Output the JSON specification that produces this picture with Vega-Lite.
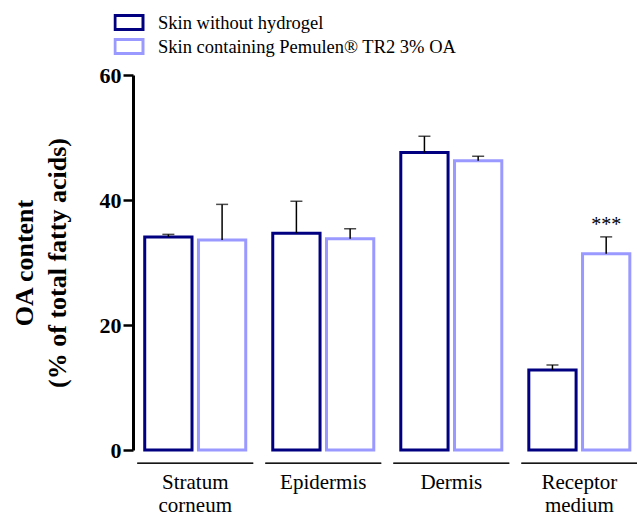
{
  "$schema": "https://vega.github.io/schema/vega-lite/v6.json",
  "autosize": {"type": "none"},
  "padding": {"left": 133, "top": 75, "right": 2, "bottom": 66},
  "width": 502,
  "height": 375,
  "config": {"view": {"stroke": null}, "font": "Liberation Serif"},
  "data": {
    "values": [
      {"tissue": "Stratum corneum", "series": "Skin without hydrogel", "mean": 34.1, "upper": 34.5, "sig": ""},
      {"tissue": "Stratum corneum", "series": "Skin containing Pemulen® TR2 3% OA", "mean": 33.6, "upper": 39.3, "sig": ""},
      {"tissue": "Epidermis", "series": "Skin without hydrogel", "mean": 34.7, "upper": 39.8, "sig": ""},
      {"tissue": "Epidermis", "series": "Skin containing Pemulen® TR2 3% OA", "mean": 33.8, "upper": 35.4, "sig": ""},
      {"tissue": "Dermis", "series": "Skin without hydrogel", "mean": 47.6, "upper": 50.2, "sig": ""},
      {"tissue": "Dermis", "series": "Skin containing Pemulen® TR2 3% OA", "mean": 46.3, "upper": 47.0, "sig": ""},
      {"tissue": "Receptor medium", "series": "Skin without hydrogel", "mean": 12.8, "upper": 13.6, "sig": ""},
      {"tissue": "Receptor medium", "series": "Skin containing Pemulen® TR2 3% OA", "mean": 31.4, "upper": 34.1, "sig": "***"}
    ]
  },
  "encoding": {
    "x": {
      "field": "tissue",
      "type": "nominal",
      "sort": ["Stratum corneum", "Epidermis", "Dermis", "Receptor medium"],
      "scale": {"paddingInner": 0.211, "paddingOuter": 0.066, "align": 0.694},
      "axis": {
        "title": null,
        "domain": false,
        "ticks": false,
        "tickSize": 0,
        "labelAngle": 0,
        "labelFont": "Liberation Serif",
        "labelFontSize": 21,
        "labelColor": "black",
        "labelPadding": 21,
        "labelLineHeight": 23,
        "labelBaseline": "top",
        "labelExpr": "split(datum.label, ' ')"
      }
    }
  },
  "layer": [
    {
      "mark": {"type": "tick", "color": "black", "thickness": 1.5, "size": 116},
      "encoding": {"y": {"datum": -2.1, "type": "quantitative"}}
    },
    {
      "mark": {"type": "bar", "fill": "white", "strokeWidth": 3},
      "encoding": {
        "y": {
          "field": "mean",
          "type": "quantitative",
          "scale": {"domain": [0, 60], "nice": false},
          "axis": {
            "title": ["OA content", "(% of total fatty acids)"],
            "titleFont": "Liberation Serif",
            "titleFontSize": 26,
            "titleFontWeight": "bold",
            "titleColor": "black",
            "titleLineHeight": 33,
            "titlePadding": 29,
            "values": [0, 20, 40, 60],
            "labelFont": "Liberation Serif",
            "labelFontSize": 22,
            "labelFontWeight": "bold",
            "labelColor": "black",
            "labelPadding": 2,
            "tickSize": 10,
            "tickWidth": 2.5,
            "tickColor": "black",
            "domainColor": "black",
            "domainWidth": 3,
            "grid": false
          }
        },
        "xOffset": {
          "field": "series",
          "type": "nominal",
          "sort": ["Skin without hydrogel", "Skin containing Pemulen® TR2 3% OA"],
          "scale": {"paddingInner": 0.12, "paddingOuter": 0}
        },
        "stroke": {
          "field": "series",
          "type": "nominal",
          "scale": {
            "domain": ["Skin without hydrogel", "Skin containing Pemulen® TR2 3% OA"],
            "range": ["#000080", "#9999ff"]
          },
          "legend": {
            "title": null,
            "orient": "none",
            "legendX": -19.5,
            "legendY": -64.5,
            "padding": 0,
            "symbolType": "M-1,-0.5H1V0.5H-1Z",
            "symbolSize": 784,
            "symbolStrokeWidth": 3,
            "symbolFillColor": "white",
            "labelFont": "Liberation Serif",
            "labelFontSize": 18.5,
            "labelColor": "black",
            "labelOffset": 13.5,
            "labelLimit": 400,
            "clipHeight": 24,
            "rowPadding": 0
          }
        }
      }
    },
    {
      "mark": {"type": "rule", "color": "black", "strokeWidth": 1.5},
      "encoding": {
        "y": {"field": "mean", "type": "quantitative"},
        "y2": {"field": "upper"},
        "xOffset": {"field": "series", "type": "nominal", "sort": ["Skin without hydrogel", "Skin containing Pemulen® TR2 3% OA"]}
      }
    },
    {
      "mark": {"type": "tick", "color": "black", "thickness": 1.5, "size": 12},
      "encoding": {
        "y": {"field": "upper", "type": "quantitative"},
        "xOffset": {"field": "series", "type": "nominal", "sort": ["Skin without hydrogel", "Skin containing Pemulen® TR2 3% OA"]}
      }
    },
    {
      "mark": {"type": "text", "fontSize": 20, "font": "Liberation Serif", "color": "black", "dy": -6, "baseline": "alphabetic"},
      "encoding": {
        "y": {"field": "upper", "type": "quantitative"},
        "text": {"field": "sig"},
        "xOffset": {"field": "series", "type": "nominal", "sort": ["Skin without hydrogel", "Skin containing Pemulen® TR2 3% OA"]}
      }
    }
  ]
}
